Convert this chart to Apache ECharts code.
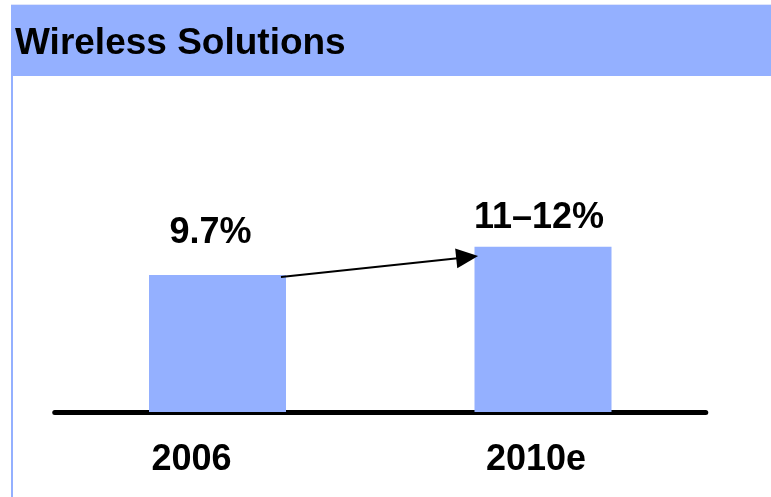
<!DOCTYPE html>
<html>
<head>
<meta charset="utf-8">
<script src="https://cdn.jsdelivr.net/npm/echarts@6/dist/echarts.min.js"></script>
<style>
  html, body { margin: 0; padding: 0; background: #ffffff; }
  #chart { width: 771px; height: 497px; }
</style>
</head>
<body>
<div id="chart"></div>
<script>
// Share of revenue, wireless solutions
const categories = ['2006', '2010e'];
const shareValues = [9.7, 11.7];
const valueLabels = ['9.7%', '11–12%'];
// Growth arrow between the two bars, in [band position, value] units
const arrowFrom = [0.195, 9.56];
const arrowTo = [0.767, 10.96];

const BLUE = '#94B0FF';
const FONT = '"Liberation Sans", Arial, Helvetica, sans-serif';

// label placement tweaks per bar
const valueLabelShift = [[-7, -19], [-4, -6]];
const categoryLabelPad = [52, 14];

const chart = echarts.init(document.getElementById('chart'), null, { renderer: 'canvas' });

chart.setOption({
  animation: false,
  backgroundColor: '#ffffff',
  title: {
    text: 'Wireless Solutions',
    left: 15,
    top: 25,
    padding: 0,
    textStyle: { fontFamily: FONT, fontSize: 37, fontWeight: 'bold', color: '#000000' }
  },
  graphic: [
    { type: 'rect', z: -10, shape: { x: 11, y: 5, width: 760, height: 71 }, style: { fill: BLUE } },
    { type: 'rect', z: -10, shape: { x: 11, y: 4, width: 760, height: 1 }, style: { fill: '#dfe5fb' } },
    { type: 'rect', z: -10, shape: { x: 11, y: 76, width: 2, height: 421 }, style: { fill: BLUE } }
  ],
  grid: { left: 54.75, right: 771 - 705.75, top: 101.3, bottom: 85 },
  xAxis: [
    {
      type: 'category',
      data: categories,
      offset: 2.5,
      axisTick: { show: false },
      axisLine: { show: true, lineStyle: { color: '#000000', width: 5, cap: 'round' } },
      axisLabel: {
        margin: 28,
        formatter: function (v, i) { return '{c' + i + '|' + v + '}'; },
        rich: {
          c0: { fontFamily: FONT, fontSize: 36, fontWeight: 'bold', color: '#000', padding: [0, categoryLabelPad[0], 0, 0] },
          c1: { fontFamily: FONT, fontSize: 36, fontWeight: 'bold', color: '#000', padding: [0, categoryLabelPad[1], 0, 0] }
        }
      }
    },
    { type: 'value', min: -0.5, max: 1.5, show: false }
  ],
  yAxis: { type: 'value', min: 0, max: 22, show: false },
  series: [
    {
      type: 'bar',
      barWidth: 137,
      itemStyle: { color: BLUE },
      data: shareValues.map(function (v, i) {
        return {
          value: v,
          label: {
            show: true,
            position: 'top',
            offset: valueLabelShift[i],
            formatter: valueLabels[i],
            fontFamily: FONT,
            fontSize: 36,
            fontWeight: 'bold',
            color: '#000000'
          }
        };
      })
    },
    {
      type: 'line',
      xAxisIndex: 1,
      data: [],
      markLine: {
        silent: true,
        symbol: ['none', 'triangle'],
        symbolSize: [20, 22],
        label: { show: false },
        lineStyle: { type: 'solid', color: '#000000', width: 2 },
        data: [[{ coord: arrowFrom }, { coord: arrowTo }]]
      }
    }
  ]
});
</script>
</body>
</html>
